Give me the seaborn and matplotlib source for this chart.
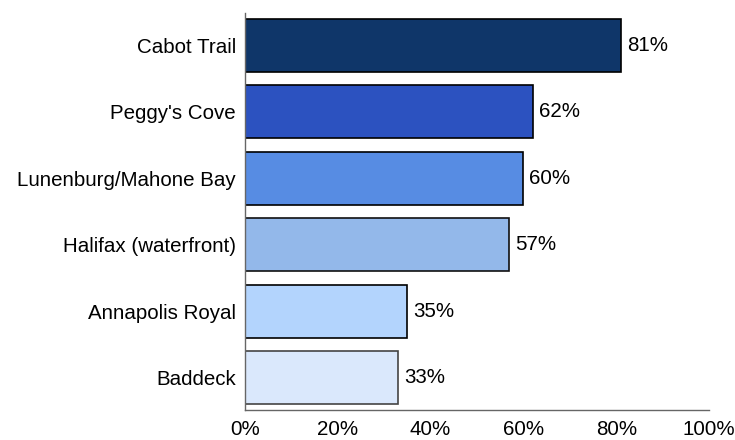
import matplotlib
matplotlib.use("Agg")
import matplotlib.pyplot as plt
import seaborn as sns
import pandas as pd

categories = ["Cabot Trail", "Peggy's Cove", "Lunenburg/Mahone Bay",
              "Halifax (waterfront)", "Annapolis Royal", "Baddeck"]
values = [81, 62, 60, 57, 35, 33]
colors = ["#0f3669", "#2c52c0", "#578ce3", "#93b8ea", "#b3d4fd", "#dae8fc"]
edges = ["#000000", "#000000", "#000000", "#111111", "#000000", "#444444"]
xticks = [0, 20, 40, 60, 80, 100]
xticklabels = ["0%", "20%", "40%", "60%", "80%", "100%"]

sns.set_style("white")
plt.rcParams['font.family'] = ['Liberation Sans', 'DejaVu Sans']
plt.rcParams['text.color'] = 'black'
plt.rcParams['xtick.color'] = 'black'
plt.rcParams['ytick.color'] = 'black'

df = pd.DataFrame({"cat": categories, "val": values})
fs = 14.8

fig = plt.figure(figsize=(7.35, 4.4), dpi=100)
ax = fig.add_axes([245/735, 30/440, (709-245)/735, (410-13)/440])
sns.barplot(data=df, x="val", y="cat", hue="cat", palette=colors,
            order=categories, hue_order=categories, legend=False,
            width=0.8, ax=ax, saturation=1)
for patch, ec in zip(ax.patches, edges):
    patch.set_edgecolor(ec)
    patch.set_linewidth(1.2)

for i, v in enumerate(values):
    ax.text(v + 1.3, i, f"{v}%", va="center", ha="left", fontsize=fs, color="black")

ax.set_xlim(0, 100)
ax.set_ylim(5.49, -0.49)
ax.set_xticks(xticks)
ax.set_xticklabels(xticklabels, fontsize=fs)
ax.tick_params(axis="y", labelsize=fs, length=0, pad=6.5, labelcolor="black")
ax.tick_params(axis="x", length=0, pad=7.5, labelcolor="black")
ax.set_xlabel("")
ax.set_ylabel("")
for s in ["top", "right"]:
    ax.spines[s].set_visible(False)
for s in ["left", "bottom"]:
    ax.spines[s].set_color("#666666")
    ax.spines[s].set_linewidth(1.0)

fig.savefig("out.png", dpi=100)
